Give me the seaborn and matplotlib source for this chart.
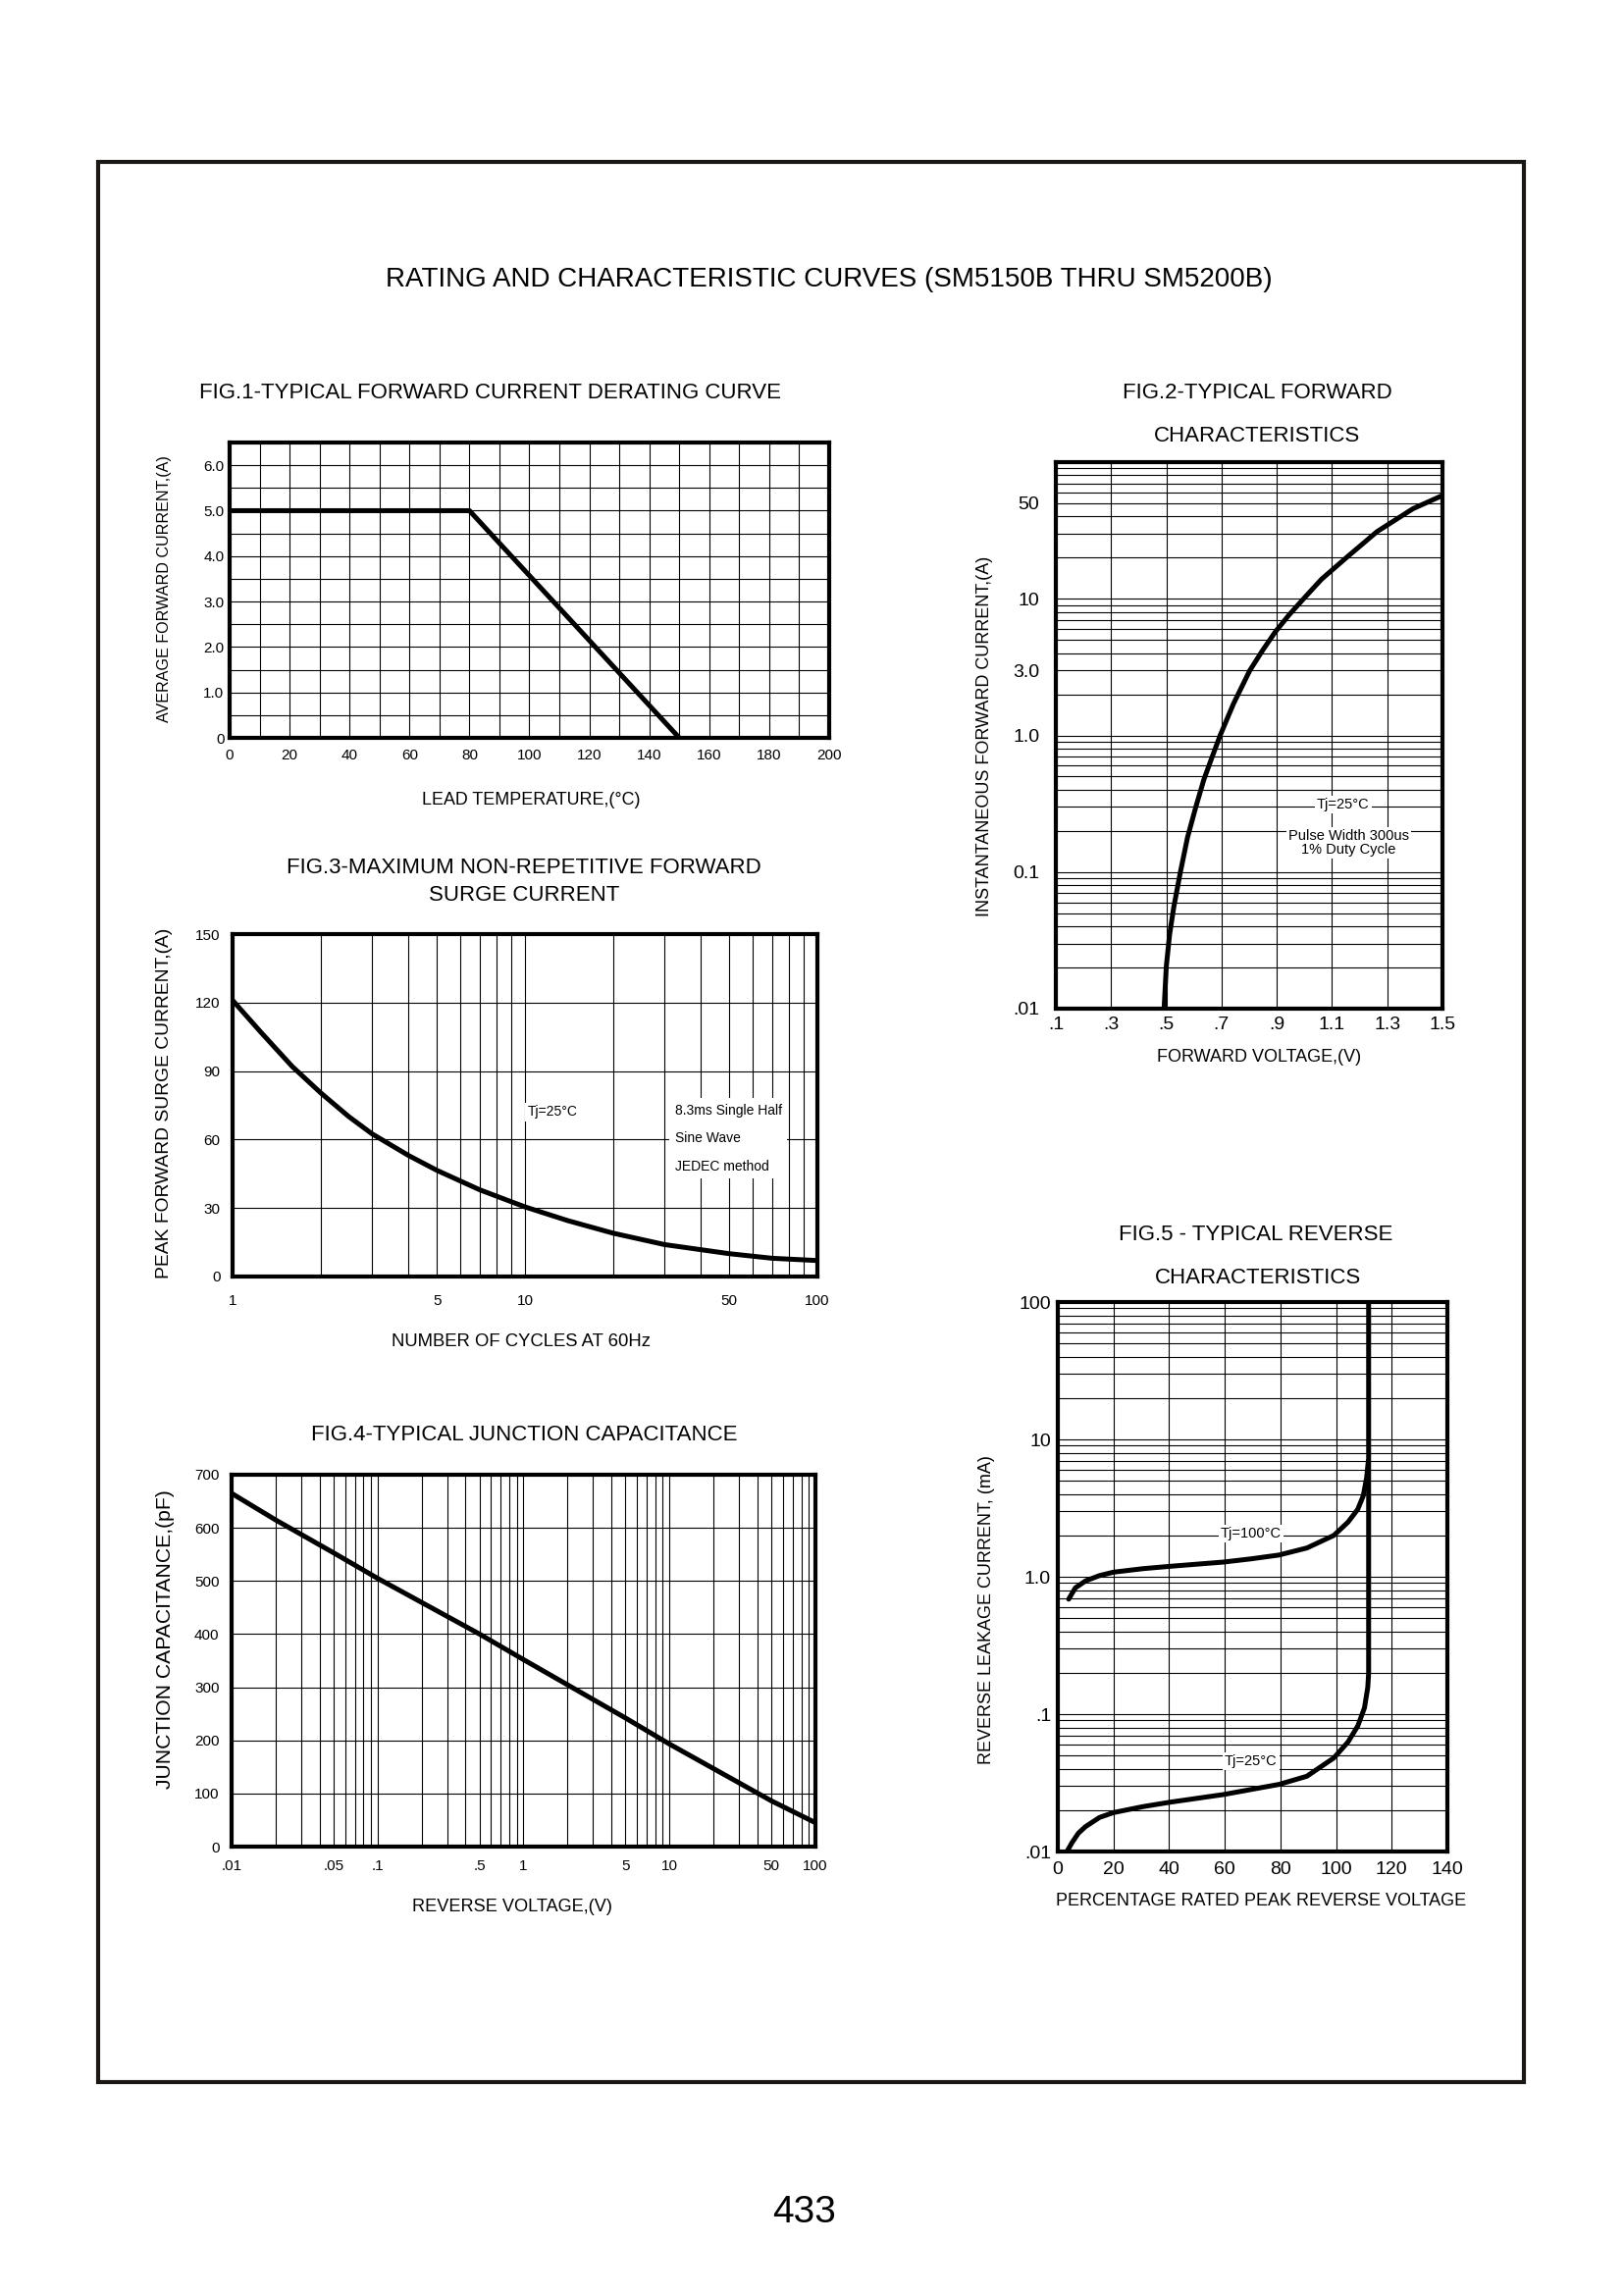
import numpy as np
import pandas as pd
import matplotlib
matplotlib.use("Agg")
import matplotlib.pyplot as plt
import seaborn as sns
from matplotlib.ticker import (MultipleLocator, FixedLocator, FixedFormatter,
                               NullFormatter, LogLocator)
from matplotlib.patches import Rectangle

# ---------------- data ----------------
fig1_temp = [0, 80, 150]
fig1_current = [5.0, 5.0, 0.0]

fig2_voltage = [0.492, 0.5, 0.512, 0.527, 0.551, 0.577, 0.607, 0.636, 0.666, 0.695,
                0.743, 0.802, 0.849, 0.894, 0.944, 0.997, 1.062, 1.157, 1.263,
                1.393, 1.5]
fig2_current = [0.01, 0.0204, 0.035, 0.0553, 0.1, 0.18, 0.3, 0.475, 0.696, 1.0,
                1.7, 2.98, 4.2, 5.7, 7.6, 10, 13.9, 20.4, 31, 45.6, 57]

fig3_cycles = [1, 1.25, 1.6, 2, 2.5, 3, 4, 5, 7, 10, 14, 20, 30, 50, 70, 100]
fig3_current = [121, 107, 92, 80.5, 70, 62.5, 53, 46.5, 38, 30.5, 24.5, 19, 14,
                10, 8, 7]

fig4_voltage = [0.01, 0.02, 0.05, 0.1, 0.5, 1, 5, 10, 50, 100]
fig4_capacitance = [665, 615, 553, 505, 400, 352, 242, 193, 86, 45]

fig5_pct_100 = [3.9, 6.3, 10, 15, 20, 30.5, 40, 59.6, 69.4, 79.5, 89.5, 99.2,
                104.3, 107.8, 109.8, 111, 111.6]
fig5_ir_100 = [0.687, 0.83, 0.934, 1.02, 1.08, 1.145, 1.19, 1.28, 1.35, 1.44,
               1.62, 2.0, 2.5, 3.1, 3.9, 5.3, 7.0]
fig5_pct_25 = [3.3, 5.1, 7.4, 10, 15, 20, 30.5, 40, 59.6, 79.5, 89.5, 99.2,
               104.3, 107.8, 110.2, 111.4, 111.7, 111.7]
fig5_ir_25 = [0.01, 0.0116, 0.0136, 0.0152, 0.0177, 0.0192, 0.0212, 0.0228,
              0.026, 0.0308, 0.0353, 0.048, 0.0627, 0.082, 0.111, 0.157, 0.198, 100]

fig1_xticks = [0, 20, 40, 60, 80, 100, 120, 140, 160, 180, 200]
fig1_yticks = [0, 1, 2, 3, 4, 5, 6]
fig1_ylabels = ["0", "1.0", "2.0", "3.0", "4.0", "5.0", "6.0"]
fig2_xticks = [0.1, 0.3, 0.5, 0.7, 0.9, 1.1, 1.3, 1.5]
fig2_xlabels = [".1", ".3", ".5", ".7", ".9", "1.1", "1.3", "1.5"]
fig2_yticks = [0.01, 0.1, 1.0, 3.0, 10, 50]
fig2_ylabels = [".01", "0.1", "1.0", "3.0", "10", "50"]
fig3_xticks = [1, 5, 10, 50, 100]
fig3_xlabels = ["1", "5", "10", "50", "100"]
fig3_yticks = [0, 30, 60, 90, 120, 150]
fig4_xticks = [0.01, 0.05, 0.1, 0.5, 1, 5, 10, 50, 100]
fig4_xlabels = [".01", ".05", ".1", ".5", "1", "5", "10", "50", "100"]
fig4_yticks = [0, 100, 200, 300, 400, 500, 600, 700]
fig5_xticks = [0, 20, 40, 60, 80, 100, 120, 140]
fig5_yticks = [0.01, 0.1, 1.0, 10, 100]
fig5_ylabels = [".01", ".1", "1.0", "10", "100"]

# ---------------- style ----------------
sns.set_style("white")
plt.rcParams['font.family'] = ['Liberation Sans', 'DejaVu Sans']
plt.rcParams['text.color'] = 'black'
plt.rcParams['lines.solid_joinstyle'] = 'round'

W, H = 1656, 2339
fig = plt.figure(figsize=(W / 100, H / 100), dpi=100)
fig.patch.set_facecolor('white')


def add_ax(x0, y0, x1, y1):
    return fig.add_axes([x0 / W, 1 - y1 / H, (x1 - x0) / W, (y1 - y0) / H])


def ftext(x, y, s, size, **kw):
    fig.text(x / W, 1 - y / H, s, fontsize=size, ha='center', va='center', **kw)


def style(ax, size, padx, pady):
    for s in ax.spines.values():
        s.set_linewidth(3.0)
        s.set_color('black')
        s.set_visible(True)
    ax.tick_params(which='both', length=0, labelsize=size, colors='black')
    ax.tick_params(axis='x', pad=padx)
    ax.tick_params(axis='y', pad=pady)
    ax.grid(True, which='both', color='black', lw=0.8)
    ax.set_axisbelow(True)
    ax.set_facecolor('white')


def place_labels(ax, box, xl, yl, xlabel, ylabel, xsize, ysize):
    x0, y0, x1, y1 = box
    ax.set_xlabel(xlabel, fontsize=xsize, color='black')
    ax.set_ylabel(ylabel, fontsize=ysize, color='black')
    ax.xaxis.set_label_coords((xl[0] - x0) / (x1 - x0), (y1 - xl[1]) / (y1 - y0))
    ax.yaxis.set_label_coords((yl[0] - x0) / (x1 - x0), (y1 - yl[1]) / (y1 - y0))
    ax.xaxis.label.set_va('center')
    ax.yaxis.label.set_va('center')


LW = 3.6
box_white = dict(facecolor='white', edgecolor='none', pad=1.5)

# ---------------- Fig 1 ----------------
b1 = (234, 451, 845, 752)
ax1 = add_ax(*b1)
sns.lineplot(x=fig1_temp, y=fig1_current, ax=ax1, color='black', lw=LW,
             estimator=None, sort=False)
ax1.set_xlim(0, 200)
ax1.set_ylim(0, 6.5)
ax1.xaxis.set_major_locator(FixedLocator(fig1_xticks))
ax1.xaxis.set_minor_locator(MultipleLocator(10))
ax1.yaxis.set_major_locator(FixedLocator(fig1_yticks))
ax1.yaxis.set_major_formatter(FixedFormatter(fig1_ylabels))
ax1.yaxis.set_minor_locator(MultipleLocator(0.5))
style(ax1, 11, 8, 4)
place_labels(ax1, b1, (541, 815), (168, 600), "LEAD TEMPERATURE,(°C)",
             "AVERAGE FORWARD CURRENT,(A)", 12.9, 11.6)
ftext(500, 400, "FIG.1-TYPICAL FORWARD CURRENT DERATING CURVE", 16)

# ---------------- Fig 2 ----------------
b2 = (1076, 471, 1470, 1028)
ax2 = add_ax(*b2)
sns.lineplot(x=fig2_voltage, y=fig2_current, ax=ax2, color='black', lw=LW,
             estimator=None, sort=False)
ax2.set_yscale('log')
ax2.set_xlim(0.1, 1.5)
ax2.set_ylim(0.01, 100)
ax2.xaxis.set_major_locator(FixedLocator(fig2_xticks))
ax2.xaxis.set_major_formatter(FixedFormatter(fig2_xlabels))
ax2.xaxis.set_minor_locator(FixedLocator([]))
ax2.yaxis.set_major_locator(FixedLocator(fig2_yticks))
ax2.yaxis.set_major_formatter(FixedFormatter(fig2_ylabels))
ax2.yaxis.set_minor_locator(LogLocator(base=10, subs=np.arange(1, 10), numticks=50))
ax2.yaxis.set_minor_formatter(NullFormatter())
style(ax2, 14, 6, 12)
place_labels(ax2, b2, (1283, 1078), (1004, 750), "FORWARD VOLTAGE,(V)",
             "INSTANTANEOUS FORWARD CURRENT,(A)", 13, 13)
ftext(1281, 400, "FIG.2-TYPICAL FORWARD", 16)
ftext(1281, 445, "CHARACTERISTICS", 16)
ax2.text(1.14, 0.31, "Tj=25°C", fontsize=10.5, ha='center', va='center', bbox=box_white)
ax2.text(1.16, 0.205, "Pulse Width 300us\n1% Duty Cycle", fontsize=10.5, ha='center',
         va='top', linespacing=1.0, bbox=box_white)

# ---------------- Fig 3 ----------------
b3 = (237, 952, 833, 1301)
ax3 = add_ax(*b3)
sns.lineplot(x=fig3_cycles, y=fig3_current, ax=ax3, color='black', lw=LW,
             estimator=None, sort=False)
ax3.set_xscale('log')
ax3.set_xlim(1, 100)
ax3.set_ylim(0, 150)
ax3.xaxis.set_major_locator(FixedLocator(fig3_xticks))
ax3.xaxis.set_major_formatter(FixedFormatter(fig3_xlabels))
ax3.xaxis.set_minor_locator(LogLocator(base=10, subs=np.arange(1, 10), numticks=50))
ax3.xaxis.set_minor_formatter(NullFormatter())
ax3.yaxis.set_major_locator(FixedLocator(fig3_yticks))
style(ax3, 11, 13, 9)
place_labels(ax3, b3, (531, 1368), (168, 1124), "NUMBER OF CYCLES AT 60Hz",
             "PEAK FORWARD SURGE CURRENT,(A)", 13.3, 13.9)
ftext(534, 885, "FIG.3-MAXIMUM NON-REPETITIVE FORWARD", 16)
ftext(534, 912, "SURGE CURRENT", 16)
ax3.text(10.2, 72, "Tj=25°C", fontsize=10, ha='left', va='center', bbox=box_white)
ax3.text(32.5, 60.5, "8.3ms Single Half\nSine Wave\nJEDEC method", fontsize=10,
         ha='left', va='center', linespacing=2.3,
         bbox=dict(facecolor='white', edgecolor='none', pad=4))

# ---------------- Fig 4 ----------------
b4 = (236, 1503, 831, 1882)
ax4 = add_ax(*b4)
sns.lineplot(x=fig4_voltage, y=fig4_capacitance, ax=ax4, color='black', lw=LW,
             estimator=None, sort=False)
ax4.set_xscale('log')
ax4.set_xlim(0.01, 100)
ax4.set_ylim(0, 700)
ax4.xaxis.set_major_locator(FixedLocator(fig4_xticks))
ax4.xaxis.set_major_formatter(FixedFormatter(fig4_xlabels))
ax4.xaxis.set_minor_locator(LogLocator(base=10, subs=np.arange(1, 10), numticks=50))
ax4.xaxis.set_minor_formatter(NullFormatter())
ax4.yaxis.set_major_locator(FixedLocator(fig4_yticks))
style(ax4, 11, 9, 9)
place_labels(ax4, b4, (522, 1944), (168, 1671), "REVERSE VOLTAGE,(V)",
             "JUNCTION CAPACITANCE,(pF)", 13.1, 15.2)
ftext(534, 1462, "FIG.4-TYPICAL JUNCTION CAPACITANCE", 16)

# ---------------- Fig 5 ----------------
b5 = (1078, 1327, 1475, 1887)
ax5 = add_ax(*b5)
sns.lineplot(x=fig5_pct_25, y=fig5_ir_25, ax=ax5, color='black', lw=LW,
             estimator=None, sort=False)
sns.lineplot(x=fig5_pct_100, y=fig5_ir_100, ax=ax5, color='black', lw=LW,
             estimator=None, sort=False)
ax5.set_yscale('log')
ax5.set_xlim(0, 140)
ax5.set_ylim(0.01, 100)
ax5.xaxis.set_major_locator(FixedLocator(fig5_xticks))
ax5.xaxis.set_minor_locator(FixedLocator([]))
ax5.yaxis.set_major_locator(FixedLocator(fig5_yticks))
ax5.yaxis.set_major_formatter(FixedFormatter(fig5_ylabels))
ax5.yaxis.set_minor_locator(LogLocator(base=10, subs=np.arange(1, 10), numticks=50))
ax5.yaxis.set_minor_formatter(NullFormatter())
style(ax5, 14, 7, 5)
place_labels(ax5, b5, (1285, 1937), (1006, 1641),
             "PERCENTAGE RATED PEAK REVERSE VOLTAGE",
             "REVERSE LEAKAGE CURRENT, (mA)", 13, 13)
ftext(1280, 1258, "FIG.5 - TYPICAL REVERSE", 16)
ftext(1282, 1303, "CHARACTERISTICS", 16)
ax5.text(69.4, 2.07, "Tj=100°C", fontsize=10.5, ha='center', va='center', bbox=box_white)
ax5.text(69.4, 0.0455, "Tj=25°C", fontsize=10.5, ha='center', va='center', bbox=box_white)

# ---------------- page ----------------
fig.patches.append(Rectangle((100 / W, 1 - 2122 / H), (1553 - 100) / W, (2122 - 165) / H,
                             transform=fig.transFigure, fill=False, edgecolor='#1a1715',
                             lw=3.0))
ftext(845, 285, "RATING AND CHARACTERISTIC CURVES (SM5150B THRU SM5200B)", 20)
ftext(820, 2255, "433", 28)

fig.savefig("out.png", dpi=100, facecolor='white')
